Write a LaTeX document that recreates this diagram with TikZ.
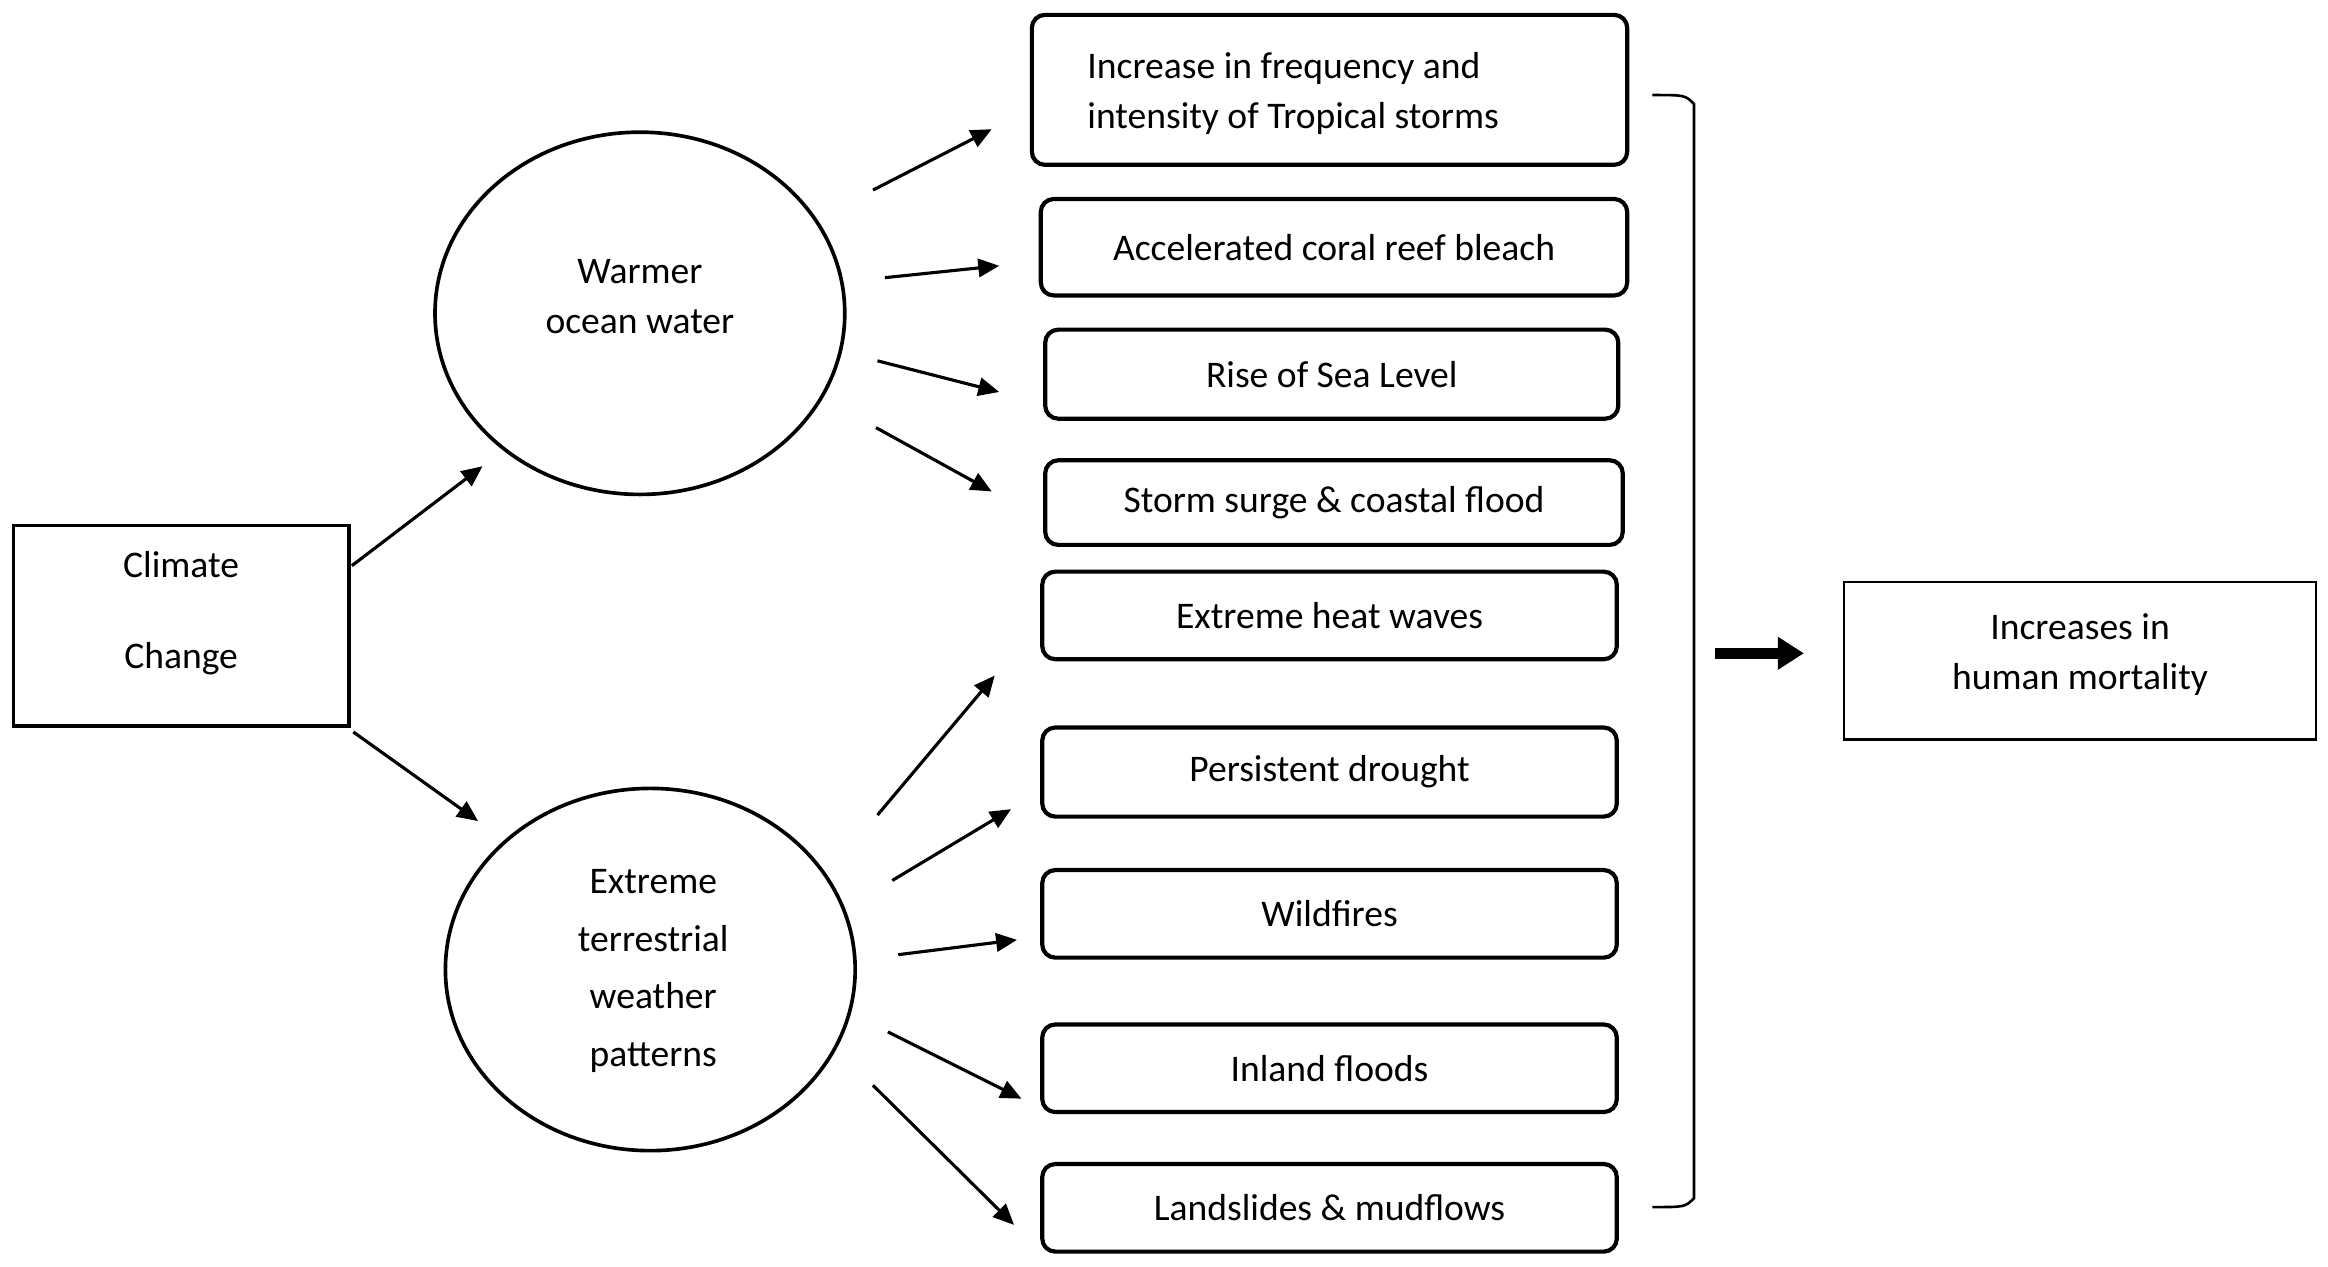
\documentclass[tikz,border=0pt]{standalone}
\usepackage{fontspec}
\setmainfont{Carlito}
\usetikzlibrary{arrows.meta}
\begin{document}
\begin{tikzpicture}[x=0.01cm,y=-0.01cm,
  font=\fontsize{7.2pt}{9.6pt}\selectfont,
  rb/.style={draw,line width=0.8pt,rounded corners=2.5pt,inner sep=0pt},
  ell/.style={draw,line width=0.7pt,inner sep=0pt},
  arr/.style={line width=0.6pt,-{Triangle[length=4pt,width=3.5pt]}}]
\useasboundingbox (0,0) rectangle (1568,853);
\fill[white] (0,0) rectangle (1568,853);
% left box
\draw[line width=0.7pt] (9,354) rectangle (235,489);
\node (cc) at (122,413) [align=center] {Climate\\[8pt]Change};
\coordinate (ccE) at (235,421);
% ellipses
\draw[ell] (431,211) ellipse [x radius=138,y radius=122];
\node (w) at (431,200) [align=center] {Warmer\\ocean water};
\draw[ell] (438,653) ellipse [x radius=138,y radius=122];
\node (e) at (440,654) [align=center,font=\fontsize{7.2pt}{11pt}\selectfont] {Extreme\\terrestrial\\weather\\patterns};
% right boxes
\newcommand{\rbox}[6]{\draw[rb] (#1,#3) rectangle (#2,#4); \node (#5) at ({(#1+#2)/2},{(#3+#4)/2}) {#6};}
\draw[rb] (695,10) rectangle (1096,111);
\node (b1) at (720,63) [anchor=west,align=left] {Increase in frequency and\\intensity of Tropical storms};
\rbox{701}{1096}{134}{199}{b2}{Accelerated coral reef bleach}
\rbox{704}{1090}{222}{282}{b3}{Rise of Sea Level}
\rbox{704}{1093}{310}{367}{b4}{Storm surge \& coastal flood}
\rbox{702}{1089}{385}{444}{b5}{Extreme heat waves}
\rbox{702}{1089}{490}{550}{b6}{Persistent drought}
\rbox{702}{1089}{586}{645}{b7}{Wildfires}
\rbox{702}{1089}{690}{749}{b8}{Inland floods}
\rbox{702}{1089}{784}{843}{b9}{Landslides \& mudflows}
% bracket
\draw[line width=0.5pt] (1113,64) .. controls (1135,64) .. (1141,70) -- (1141,807) .. controls (1135,813) .. (1113,813);
% output
\draw[line width=0.5pt] (1242,392) rectangle (1560,498);
\node (out) at (1401,441) [align=center] {Increases in\\human mortality};
\coordinate (t1) at (1155,440); \coordinate (t2) at (1215,440);
\draw[line width=2pt,-{Triangle[length=5pt,width=6pt]}] (t1) -- (t2);
% arrows
\coordinate (a1) at (237,381); \coordinate (a2) at (325,314);
\coordinate (a3) at (238,493); \coordinate (a4) at (322,553);
\draw[arr] (a1) -- (a2); \draw[arr] (a3) -- (a4);
\foreach \sx/\sy/\tx/\ty [count=\i] in {588/128/668/87, 596/187/673/179, 591/243/673/264, 590/288/668/331,
  591/549/670/455, 601/593/681/545, 605/643/685/633, 598/695/688/740, 588/731/683/825}{
  \coordinate (s\i) at (\sx,\sy); \coordinate (e\i) at (\tx,\ty);
  \draw[arr] (s\i) -- (e\i);}
\end{tikzpicture}
\end{document}
